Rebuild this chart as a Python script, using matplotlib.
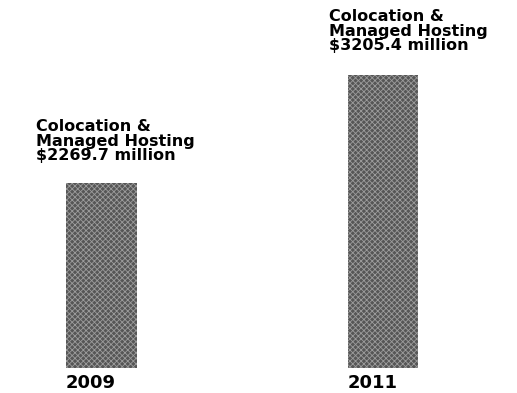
import matplotlib
matplotlib.use("Agg")
import matplotlib.pyplot as plt

years = ["2009", "2011"]
values = [2269.7, 3205.4]
segment = "Colocation &\nManaged Hosting"

fig = plt.figure(figsize=(5.17, 3.93), dpi=100)
ax = fig.add_axes([0, 25/393, 1, 368/393])
x = list(range(len(years)))
bars = ax.bar(x, values, width=0.25, color="#565656", edgecolor="#9c9c9c",
              hatch="xxxxxx", linewidth=0)
for b in bars:
    b.set_hatch_linewidth(0.6)
ax.set_xlim(-0.3606, 1.476)
ax.set_ylim(670, 3854)
ax.axis("off")

offsets = [(-30, 20), (-19, 22)]
for xi, v, (dx, dy) in zip(x, values, offsets):
    ax.annotate(f"{segment}\n${v:.1f} million", xy=(xi - 0.125, v),
                xytext=(dx * 0.72, dy * 0.72), textcoords="offset points",
                ha="left", va="bottom", fontsize=11.5, fontweight="bold",
                linespacing=0.95, family="DejaVu Sans")
    ax.annotate(years[xi], xy=(xi, 670), xytext=(-7.5, -14.4), textcoords="offset points",
                ha="center", va="baseline", fontsize=13, fontweight="bold",
                family="DejaVu Sans")

fig.savefig("out.png", dpi=100)
